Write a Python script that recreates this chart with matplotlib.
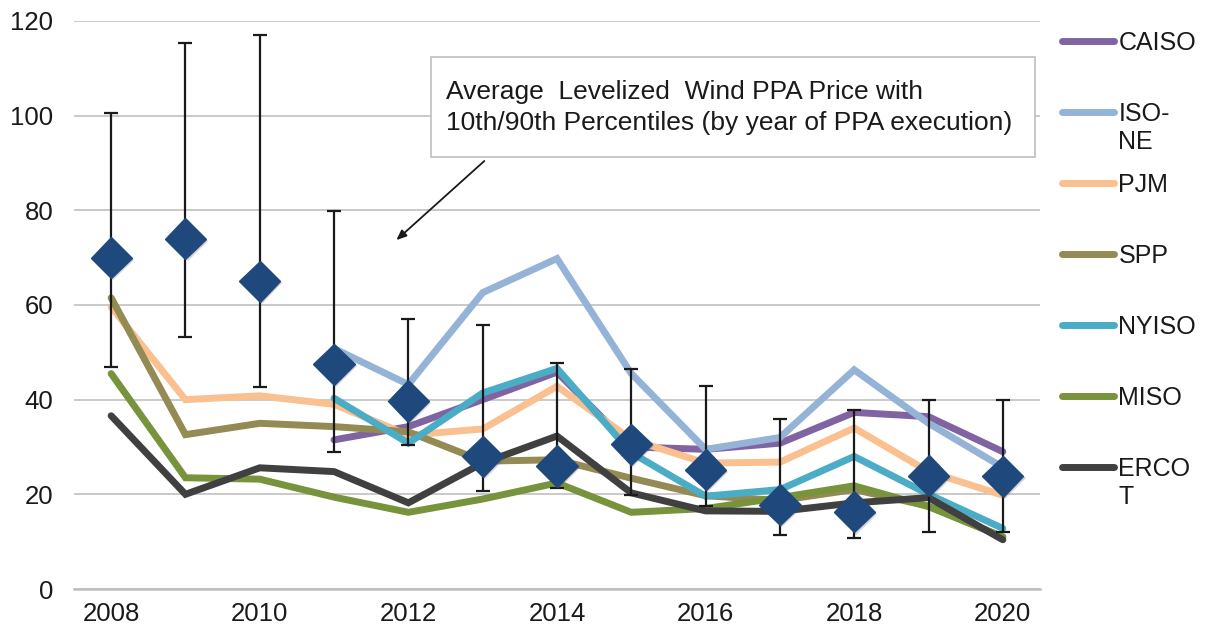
import matplotlib.pyplot as plt
import matplotlib.patheffects as pe
from matplotlib.lines import Line2D
from matplotlib.patches import Rectangle

plt.rcParams['font.family'] = ['Liberation Sans', 'DejaVu Sans']

# =========================
# data
# =========================
years = list(range(2008, 2021))

avg_price = [70, 74, 65, 47.5, 39.7, 28, 26, 30.6, 25.2, 17.8, 16.3, 23.9, 23.8]
p90 = [100.6, 115.4, 117.1, 79.8, 57, 55.8, 47.8, 46.4, 42.8, 35.9, 37.9, 40, 40]
p10 = [46.9, 53.2, 42.7, 28.9, 30.5, 20.8, 21.4, 19.9, 17.6, 11.5, 10.7, 12, 12]

caiso = [None, None, None, 31.5, 34.3, 40, 45.8, 30, 29.5, 30.8, 37.3, 36.4, 29]
isone = [None, None, None, 50.8, 43.2, 62.6, 69.8, 45.5, 29.5, 32, 46.3, 35, 25.7]
pjm = [59.6, 40, 40.8, 39, 32.5, 33.8, 42.8, 31.6, 26.6, 26.8, 34, 24.8, 19.8]
spp = [61.5, 32.6, 35, 34.3, 33.2, 27, 27.3, 23.4, 19.7, 18.7, 21, 17.5, 11]
nyiso = [None, None, None, 40.3, 30.8, 41.4, 46.6, 28.8, 19.6, 21, 28, 20, 12.8]
miso = [45.5, 23.5, 23.2, 19.4, 16.2, 19, 22.4, 16.2, 17, 19.3, 21.8, 17.4, 11]
ercot = [36.6, 20, 25.6, 24.8, 18.2, 26.6, 32.3, 20.3, 16.5, 16.4, 18.2, 19.3, 10.4]

series_names = ["CAISO", "ISO-NE", "PJM", "SPP", "NYISO", "MISO", "ERCOT"]
legend_labels = ["CAISO", "ISO-\nNE", "PJM", "SPP", "NYISO", "MISO", "ERCO\nT"]
series_values = [caiso, isone, pjm, spp, nyiso, miso, ercot]
series_colors = ["#8064A2", "#95B3D7", "#FAC090", "#948A54", "#4BACC6", "#77933C", "#404040"]

box_text = "Average  Levelized  Wind PPA Price with\n10th/90th Percentiles (by year of PPA execution)"

# =========================
# figure
# =========================
fig = plt.figure(figsize=(12.09, 6.33), dpi=100)
ax = fig.add_axes([0.0612, 0.0695, 0.7990, 0.8975])

for vals, color in zip(series_values, series_colors):
    xs = [y for y, v in zip(years, vals) if v is not None]
    ys = [v for v in vals if v is not None]
    ax.plot(xs, ys, color=color, linewidth=5, solid_capstyle="round",
            solid_joinstyle="miter", zorder=3)

# error bars + diamonds
yerr = [[a - lo for a, lo in zip(avg_price, p10)], [hi - a for a, hi in zip(avg_price, p90)]]
ax.errorbar(years, avg_price, yerr=yerr, fmt="none", ecolor="#1a1a1a",
            elinewidth=1.6, capsize=5, capthick=1.6, zorder=4)
ax.plot(years, avg_price, linestyle="none", marker="D", markersize=21,
        markerfacecolor="#1F497D", markeredgecolor="#1F497D", zorder=5,
        path_effects=[pe.SimplePatchShadow(offset=(1.5, -1.5), shadow_rgbFace="#555555", alpha=0.25),
                      pe.Normal()])

# axes styling
ax.set_xlim(2007.5, 2020.5)
ax.set_ylim(0, 120)
ax.set_yticks(range(0, 121, 20))
ax.set_xticks(years[::2])
ax.yaxis.grid(True, color="#C0C0C0", linewidth=1.2)
ax.set_axisbelow(True)
for side in ["top", "right", "left"]:
    ax.spines[side].set_visible(False)
ax.spines["bottom"].set_color("#BFBFBF")
ax.spines["bottom"].set_linewidth(1.8)
ax.tick_params(axis="both", length=0, labelsize=18.5, labelcolor="#1a1a1a")
ax.tick_params(axis="y", pad=15)
ax.tick_params(axis="x", pad=9)

# annotation box + arrow
ax.add_patch(Rectangle((2012.31, 91.2), 8.12, 21.2, facecolor="white",
                       edgecolor="#BFBFBF", linewidth=1.2, zorder=6))
ax.text(2012.51, 101.7, box_text, fontsize=19, color="#1a1a1a", va="center", ha="left",
        linespacing=1.33, zorder=7)
ax.annotate("", xy=(2011.81, 73.3), xytext=(2013.05, 90.8),
            arrowprops=dict(arrowstyle="-|>,head_length=0.6,head_width=0.25",
                            color="#1a1a1a", lw=1.3), zorder=6)

# legend on the right
for i, (lab, color) in enumerate(zip(legend_labels, series_colors)):
    yy = 0.935 - i * 0.1122
    fig.add_artist(Line2D([0.8785, 0.9215], [yy, yy], color=color, linewidth=5,
                          solid_capstyle="round", transform=fig.transFigure))
    fig.text(0.9250, yy + 0.0165, lab, fontsize=18, va="top", ha="left",
             color="#1a1a1a", linespacing=1.2)

fig.savefig("out.png", dpi=100)
